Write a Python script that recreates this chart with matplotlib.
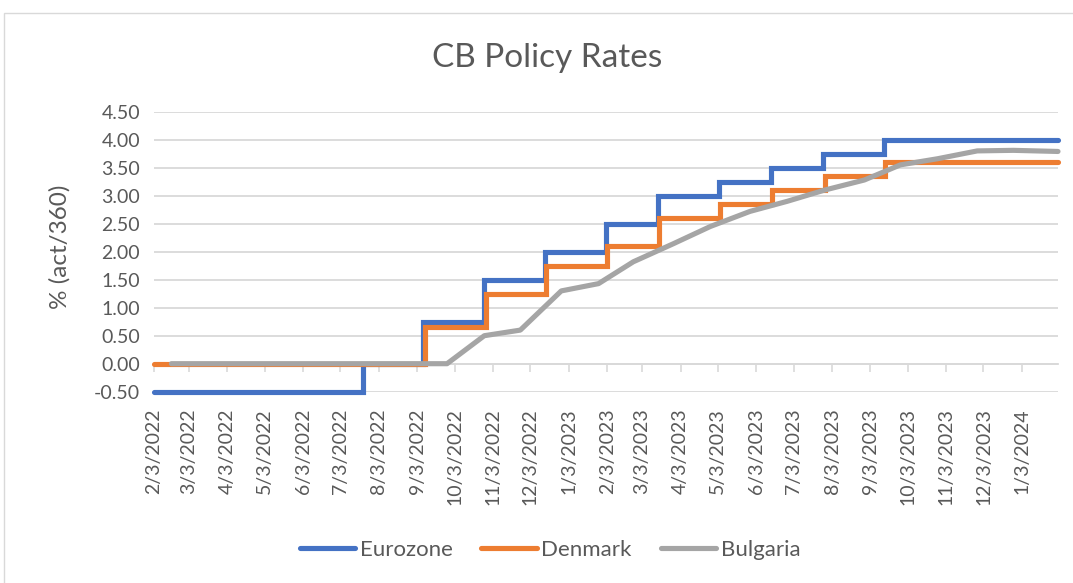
import pandas as pd
import matplotlib
matplotlib.use('Agg')
import matplotlib.pyplot as plt
import matplotlib.dates as mdates
from matplotlib.patches import Rectangle

# 1. DATA
# Eurozone: rate change dates (step, held until next date)
ez_dates = ['2022-02-03', '2022-07-21', '2022-09-08', '2022-10-27', '2022-12-15',
            '2023-02-02', '2023-03-16', '2023-05-04', '2023-06-15', '2023-07-27',
            '2023-09-14', '2024-02-01']
ez_rates = [-0.50, 0.00, 0.75, 1.50, 2.00, 2.50, 3.00, 3.25, 3.50, 3.75, 4.00, 4.00]

# Denmark
dk_dates = ['2022-02-03', '2022-09-09', '2022-10-28', '2022-12-16', '2023-02-03',
            '2023-03-17', '2023-05-05', '2023-06-16', '2023-07-28', '2023-09-15',
            '2024-02-01']
dk_rates = [0.00, 0.65, 1.25, 1.75, 2.10, 2.60, 2.85, 3.10, 3.35, 3.60, 3.60]

# Bulgaria (monthly base interest rate, straight lines between points)
bg_dates = ['2022-02-17', '2022-09-27', '2022-10-27', '2022-11-25', '2022-12-28',
            '2023-01-27', '2023-02-24', '2023-03-28', '2023-04-27', '2023-05-29',
            '2023-06-28', '2023-07-28', '2023-08-29', '2023-09-27', '2023-10-27',
            '2023-11-28', '2023-12-27', '2024-02-01']
bg_rates = [0.00, 0.00, 0.50, 0.60, 1.30, 1.43, 1.82, 2.14, 2.45, 2.72,
            2.90, 3.10, 3.28, 3.55, 3.66, 3.80, 3.81, 3.79]

ez_dates = pd.to_datetime(ez_dates)
dk_dates = pd.to_datetime(dk_dates)
bg_dates = pd.to_datetime(bg_dates)

# 2. STYLE
plt.rcParams['font.family'] = ['Lato', 'DejaVu Sans']
txt = '#595959'
grid = '#D9D9D9'

fig = plt.figure(figsize=(10.73, 5.83), dpi=100)
ax = fig.add_axes([154/1073, 1 - 391.7/583, (1058 - 154)/1073, (391.7 - 111.7)/583])

# outer chart frame
fig.patches.append(Rectangle((4/1073, -0.1), 1.2, 1.1 - 13/583, transform=fig.transFigure,
                             fill=False, edgecolor=grid, lw=1))

# 3. PLOT
lw = 3.7
ax.step(ez_dates, ez_rates, where='post', color='#4472C4', lw=lw, label='Eurozone',
        solid_capstyle='round', solid_joinstyle='miter', clip_on=False)
ax.step(dk_dates, dk_rates, where='post', color='#ED7D31', lw=lw, label='Denmark',
        solid_capstyle='round', solid_joinstyle='miter', clip_on=False)
ax.plot(bg_dates, bg_rates, color='#A5A5A5', lw=lw, label='Bulgaria',
        solid_capstyle='round', solid_joinstyle='round', clip_on=False)

ax.set_ylim(-0.5, 4.5)
ax.set_yticks([-0.5 + 0.5 * i for i in range(11)])
ax.yaxis.set_major_formatter(plt.FuncFormatter(lambda v, p: f'{v:.2f}'))
ax.set_xlim(pd.Timestamp('2022-02-03'), pd.Timestamp('2024-02-01'))

loc = mdates.MonthLocator(bymonthday=3)
ax.xaxis.set_major_locator(loc)
ax.xaxis.set_major_formatter(plt.FuncFormatter(
    lambda v, p: (lambda d: f'{d.month}/{d.day}/{d.year}')(mdates.num2date(v))))

ax.grid(axis='y', color=grid, lw=1.3)
ax.set_axisbelow(True)
for s in ax.spines.values():
    s.set_visible(False)
ax.tick_params(axis='y', length=0, pad=10, labelsize=14, labelcolor=txt)
ax.tick_params(axis='x', length=0, pad=12, labelsize=14, labelcolor=txt)
for lab in ax.get_xticklabels():
    lab.set_rotation(90)
    lab.set_ha('center')
    lab.set_va('top')

# horizontal axis line crosses at 0 with tick marks
sec = ax.secondary_xaxis(0.1)
sec.xaxis.set_major_locator(mdates.MonthLocator(bymonthday=3))
sec.tick_params(axis='x', length=6, width=1.2, color=grid, labelbottom=False, labeltop=False)
for s in sec.spines.values():
    s.set_color(grid)
    s.set_linewidth(1.3)

# 4. TEXT
fig.text(547/1073, 1 - 58/583, 'CB Policy Rates', ha='center', va='center',
         fontsize=24, color=txt)
fig.text(60/1073, 1 - 247/583, '% (act/360)', ha='center', va='center',
         rotation=90, fontsize=17.5, color=txt)

fig.legend(loc='center', bbox_to_anchor=(550/1073, 1 - 550/583), ncol=3, frameon=False,
           fontsize=16, handlelength=2.5, handletextpad=0.2, columnspacing=1.3,
           labelcolor=txt)

plt.savefig('out.png', dpi=100)
